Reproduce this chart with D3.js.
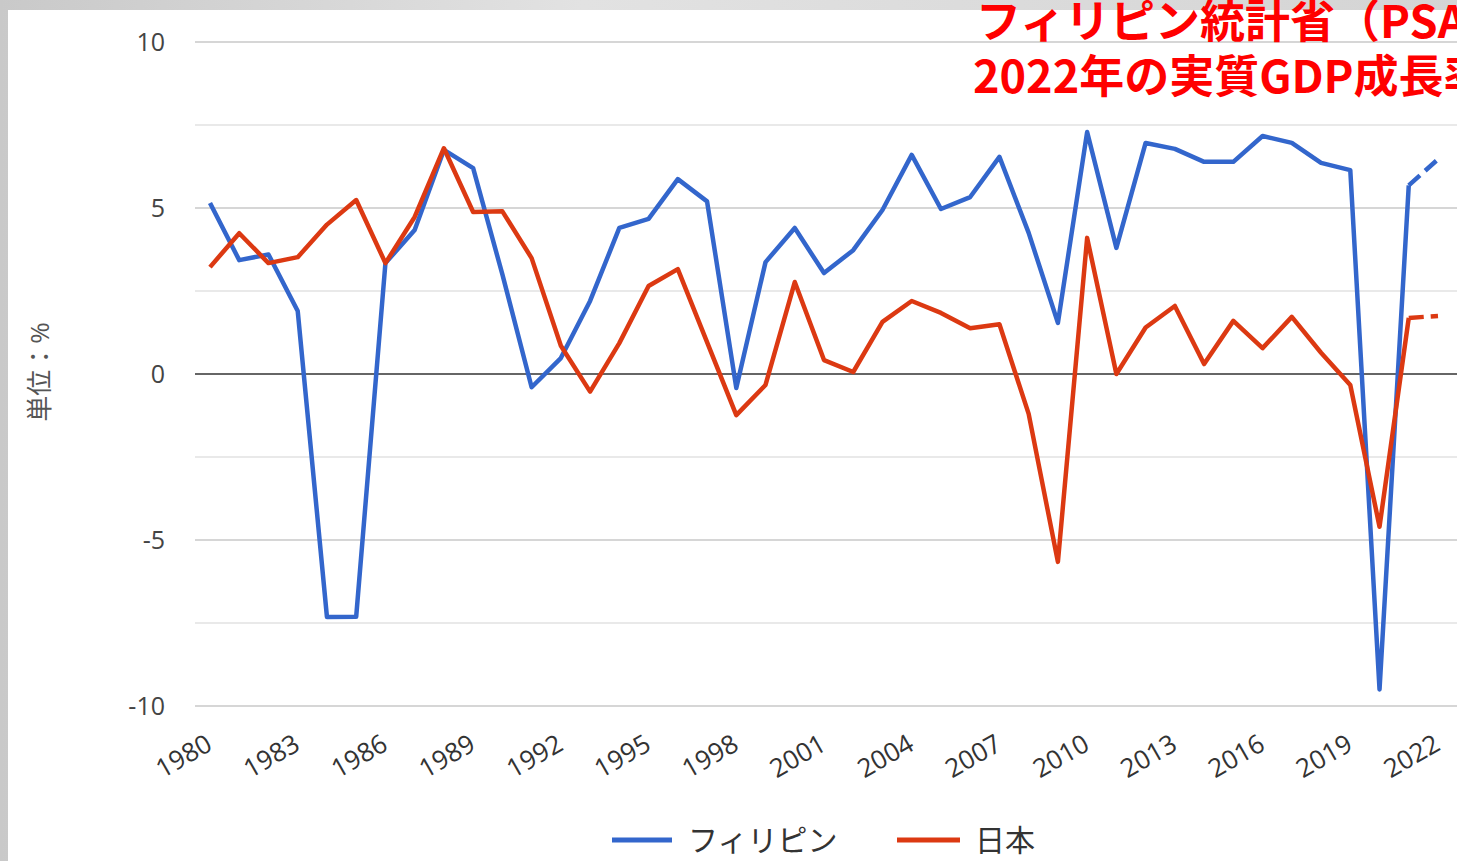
<!DOCTYPE html>
<html>
<head>
<meta charset="utf-8">
<script src="https://cdn.jsdelivr.net/npm/d3@7"></script>
<style>
  html, body { margin: 0; padding: 0; background: #d6d6d6; overflow: hidden; }
  svg { display: block; }
</style>
</head>
<body>
<svg id="chart" width="1457" height="861"></svg>
<script>
// ---- data ----
const years = d3.range(1980, 2023);
const philippines = [5.15, 3.43, 3.6, 1.9, -7.32, -7.31, 3.34, 4.34, 6.75, 6.2,
  3.0, -0.4, 0.48, 2.2, 4.4, 4.67, 5.87, 5.2, -0.42, 3.37,
  4.4, 3.04, 3.73, 4.94, 6.6, 4.97, 5.33, 6.54, 4.25, 1.54,
  7.29, 3.8, 6.96, 6.78, 6.39, 6.39, 7.17, 6.96, 6.36, 6.14,
  -9.5, 5.68, 6.47];
const japan = [3.22, 4.24, 3.34, 3.52, 4.5, 5.24, 3.34, 4.73, 6.8, 4.88,
  4.9, 3.49, 0.85, -0.53, 0.93, 2.65, 3.16, 0.96, -1.24, -0.33,
  2.77, 0.42, 0.06, 1.57, 2.2, 1.84, 1.38, 1.5, -1.2, -5.66,
  4.1, 0.0, 1.4, 2.05, 0.3, 1.6, 0.78, 1.72, 0.64, -0.33,
  -4.6, 1.69, 1.75];
const seriesNames = ["フィリピン", "日本"];
const yTickLabels = [10, 5, 0, -5, -10];
const gridValues = [10, 7.5, 5, 2.5, 0, -2.5, -5, -7.5, -10];
const xTickYears = d3.range(1980, 2023, 3);
const titleLines = ["フィリピン統計省（PSA）", "2022年の実質GDP成長率"];
const yAxisTitle = "単位：%";

// ---- setup ----
const W = 1457, H = 861;
const svg = d3.select("#chart");
const font = "'Open Sans', 'Noto Sans CJK JP', sans-serif";
const colors = ["#3366cc", "#dc3912"];

// background (photo edge) + white card
const defs = svg.append("defs");
const g1 = defs.append("linearGradient").attr("id", "bg").attr("x1", 0).attr("x2", 1).attr("y1", 0).attr("y2", 0);
g1.append("stop").attr("offset", "0%").attr("stop-color", "#c9c9c9");
g1.append("stop").attr("offset", "40%").attr("stop-color", "#e2e2e2");
g1.append("stop").attr("offset", "100%").attr("stop-color", "#d4d4d4");
svg.append("rect").attr("width", W).attr("height", H).attr("fill", "url(#bg)");
svg.append("rect").attr("x", 8).attr("y", 10).attr("width", W - 8).attr("height", H - 10).attr("fill", "#ffffff");

const x = d3.scaleLinear().domain([1980, 2022]).range([210, 1438]);
const y = d3.scaleLinear().domain([-10, 10]).range([706, 42]);

// gridlines
svg.append("g").selectAll("line").data(gridValues).join("line")
  .attr("x1", 195).attr("x2", W)
  .attr("y1", d => y(d)).attr("y2", d => y(d))
  .attr("stroke", d => d === 0 ? "#333333" : (d % 5 === 0 ? "#c8c8c8" : "#e2e2e2"))
  .attr("stroke-width", d => d === 0 ? 1.6 : 1.5);

// y axis labels (using d3 axis, domain hidden)
const yAxis = svg.append("g").attr("transform", "translate(165,0)")
  .call(d3.axisLeft(y).tickValues(yTickLabels).tickSize(0).tickPadding(0).tickFormat(d => String(d)));
yAxis.select(".domain").remove();
yAxis.selectAll("text").attr("font-family", font).attr("font-size", 25).attr("fill", "#444").attr("dy", "0.35em");

// x axis labels, slanted
const xAxis = svg.append("g");
xAxis.selectAll("text").data(xTickYears).join("text")
  .attr("transform", d => `translate(${x(d) + 4},${749}) rotate(-30)`)
  .attr("text-anchor", "end")
  .attr("font-family", font).attr("font-size", 26).attr("fill", "#333")
  .text(d => d);

// y axis title
svg.append("text")
  .attr("transform", "translate(40,372) rotate(-90)")
  .attr("text-anchor", "middle").attr("dy", "0.35em")
  .attr("font-family", font).attr("font-size", 26).attr("fill", "#555")
  .text(yAxisTitle);

// lines
const line = d3.line().x(d => x(d[0])).y(d => y(d[1]));
[philippines, japan].forEach((vals, i) => {
  const pts = years.map((yr, k) => [yr, vals[k]]);
  const solid = pts.slice(0, pts.length - 1);
  const dashed = pts.slice(pts.length - 2);
  svg.append("path").datum(solid).attr("d", line)
    .attr("fill", "none").attr("stroke", colors[i]).attr("stroke-width", 4.5)
    .attr("stroke-linejoin", "round");
  svg.append("path").datum(dashed).attr("d", line)
    .attr("fill", "none").attr("stroke", colors[i]).attr("stroke-width", 4.5)
    .attr("stroke-dasharray", "15,7");
});

// legend
const legendItems = [
  { name: seriesNames[0], color: colors[0], x1: 612, x2: 672, tx: 688 },
  { name: seriesNames[1], color: colors[1], x1: 897, x2: 960, tx: 975 }
];
const lg = svg.append("g");
legendItems.forEach(it => {
  lg.append("line").attr("x1", it.x1).attr("x2", it.x2).attr("y1", 840).attr("y2", 840)
    .attr("stroke", it.color).attr("stroke-width", 5);
  lg.append("text").attr("x", it.tx).attr("y", 840).attr("dy", "0.36em")
    .attr("font-family", font).attr("font-size", 30).attr("fill", "#333")
    .text(it.name);
});

// red overlay title (cut off at right edge as in the source)
svg.append("text").attr("x", 976).attr("y", 38)
  .attr("font-family", "'Noto Sans CJK JP', sans-serif").attr("font-weight", 700)
  .attr("font-size", 45).attr("fill", "#ff0000").text(titleLines[0]);
svg.append("text").attr("x", 973).attr("y", 93)
  .attr("font-family", "'Noto Sans CJK JP', sans-serif").attr("font-weight", 700)
  .attr("font-size", 45).attr("fill", "#ff0000").text(titleLines[1]);
</script>
</body>
</html>
